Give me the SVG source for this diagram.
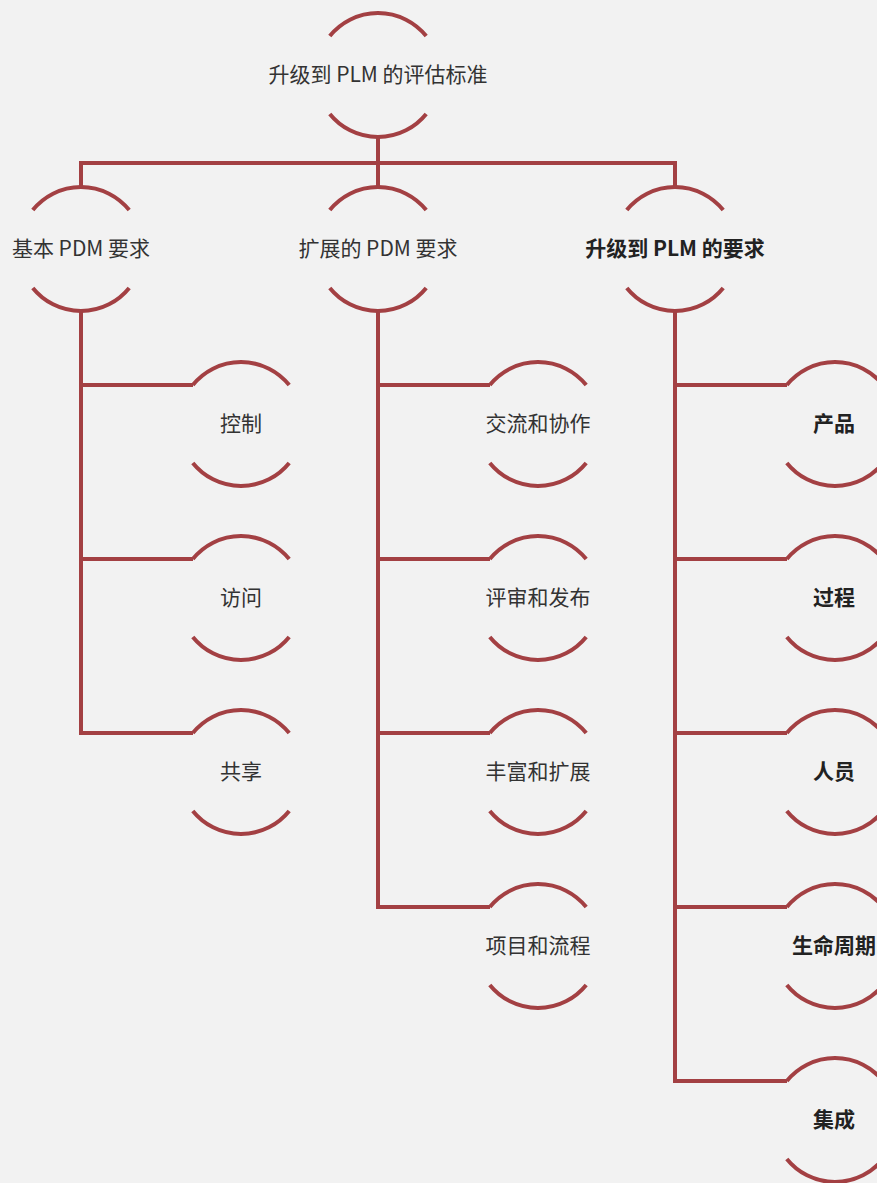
<svg xmlns="http://www.w3.org/2000/svg" xmlns:xlink="http://www.w3.org/1999/xlink" width="877" height="1183" viewBox="0 0 877 1183">
<style>
.ln{fill:none;stroke:#a34043;stroke-width:4;stroke-linejoin:miter;stroke-linecap:butt}
.t{font-family:"Noto Sans CJK SC","Noto Sans",sans-serif;font-size:21px;fill:#333333;text-anchor:middle}
.b{font-weight:bold;fill:#222222}
</style>
<defs>
<g id="arc">
<path class="ln" d="M-48.2,-39 A62,62 0 0 1 48.2,-39"/>
<path class="ln" d="M-48.2,39 A62,62 0 0 0 48.2,39"/>
</g>
</defs>
<rect width="877" height="1183" fill="#f2f2f2"/>
<g id="connectors">
<polyline class="ln" points="378,137 378,163 81,163 81,187"/>
<polyline class="ln" points="378,163 378,187"/>
<polyline class="ln" points="378,163 675,163 675,187"/>
<polyline class="ln" points="81,311 81,733 193,733"/>
<polyline class="ln" points="81,385 193,385"/>
<polyline class="ln" points="81,559 193,559"/>
<polyline class="ln" points="378,311 378,907 490,907"/>
<polyline class="ln" points="378,385 490,385"/>
<polyline class="ln" points="378,559 490,559"/>
<polyline class="ln" points="378,733 490,733"/>
<polyline class="ln" points="675,311 675,1081 787,1081"/>
<polyline class="ln" points="675,385 787,385"/>
<polyline class="ln" points="675,559 787,559"/>
<polyline class="ln" points="675,733 787,733"/>
<polyline class="ln" points="675,907 787,907"/>
</g>
<g id="root"><use xlink:href="#arc" href="#arc" x="378" y="75"/><text class="t" x="378" y="82">升级到 PLM 的评估标准</text></g>
<g id="n-basic"><use xlink:href="#arc" href="#arc" x="81" y="249"/><text class="t" x="81" y="256">基本 PDM 要求</text></g>
<g id="n-ext"><use xlink:href="#arc" href="#arc" x="378" y="249"/><text class="t" x="378" y="256">扩展的 PDM 要求</text></g>
<g id="n-plm"><use xlink:href="#arc" href="#arc" x="675" y="249"/><text class="t b" x="675" y="256">升级到 PLM 的要求</text></g>
<g id="n-control"><use xlink:href="#arc" href="#arc" x="241" y="424"/><text class="t" x="241" y="431">控制</text></g>
<g id="n-access"><use xlink:href="#arc" href="#arc" x="241" y="598"/><text class="t" x="241" y="605">访问</text></g>
<g id="n-share"><use xlink:href="#arc" href="#arc" x="241" y="772"/><text class="t" x="241" y="779">共享</text></g>
<g id="n-comm"><use xlink:href="#arc" href="#arc" x="538" y="424"/><text class="t" x="538" y="431">交流和协作</text></g>
<g id="n-review"><use xlink:href="#arc" href="#arc" x="538" y="598"/><text class="t" x="538" y="605">评审和发布</text></g>
<g id="n-enrich"><use xlink:href="#arc" href="#arc" x="538" y="772"/><text class="t" x="538" y="779">丰富和扩展</text></g>
<g id="n-project"><use xlink:href="#arc" href="#arc" x="538" y="946"/><text class="t" x="538" y="953">项目和流程</text></g>
<g id="n-product"><use xlink:href="#arc" href="#arc" x="835" y="424"/><text class="t b" x="834" y="431">产品</text></g>
<g id="n-process"><use xlink:href="#arc" href="#arc" x="835" y="598"/><text class="t b" x="834" y="605">过程</text></g>
<g id="n-people"><use xlink:href="#arc" href="#arc" x="835" y="772"/><text class="t b" x="834" y="779">人员</text></g>
<g id="n-lifecycle"><use xlink:href="#arc" href="#arc" x="835" y="946"/><text class="t b" x="834" y="953">生命周期</text></g>
<g id="n-integ"><use xlink:href="#arc" href="#arc" x="835" y="1120"/><text class="t b" x="834" y="1127">集成</text></g>
</svg>
